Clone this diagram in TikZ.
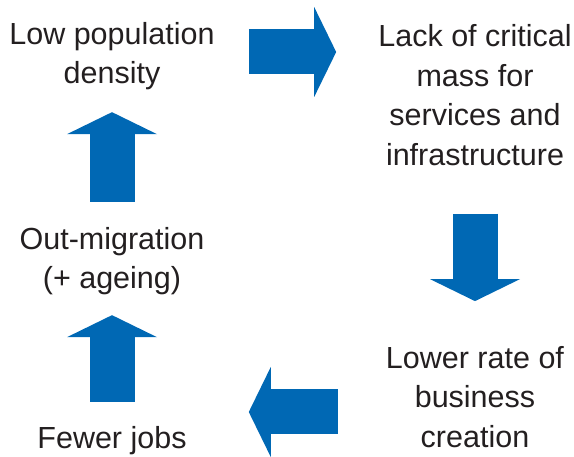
\documentclass[tikz,border=0pt]{standalone}
\usepackage{fontspec}
\setmainfont{Liberation Sans}
\usetikzlibrary{arrows.meta, positioning}
\definecolor{flowblue}{RGB}{0,104,180}
\definecolor{inkgrey}{RGB}{35,31,32}

\begin{document}
\begin{tikzpicture}[x=1pt, y=-1pt,
    bigarrow/.style={draw=flowblue, line width=45pt,
        -{Triangle[length=22pt, width=90pt, line width=0pt]}}]
        \tikzstyle{every node}=[align=center, inner sep=0pt, text=inkgrey,
            font=\fontsize{30.5}{39.5}\selectfont]
        \useasboundingbox (0,0) rectangle (574,457);
        \node (low)   at (112,56)  {Low population\\density};
        \node (lack)  at (475,95)  {Lack of critical\\mass for\\services and\\infrastructure};
        \node (lower) at (475,397) {Lower rate of\\business\\creation};
        \node (fewer) at (112,441) {Fewer jobs};
        \node (out)   at (112,261) {Out-migration\\(+ ageing)};
        \path
        ([yshift=4pt]low.east) edge[bigarrow, shorten <=34pt, shorten >=42pt]
            ([yshift=4pt]low.east -| lack.west)
        (lack.south) edge[bigarrow, shorten <=48pt, shorten >=45pt] (lower.north)
        ([yshift=-15pt]lower.west) edge[bigarrow, shorten <=48pt, shorten >=62pt]
            ([yshift=-15pt]lower.west -| fewer.east)
        (fewer.north) edge[bigarrow, shorten <=25pt, shorten >=20pt] (out.south)
        (out.north) edge[bigarrow, shorten <=25pt, shorten >=22pt] (low.south);
\end{tikzpicture}
\end{document}
